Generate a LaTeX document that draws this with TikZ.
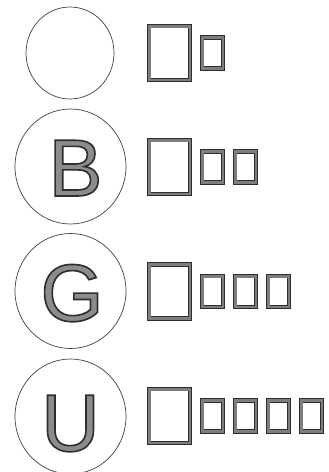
\documentclass[tikz,border=0pt]{standalone}
\usepackage{fontspec}
\setmainfont{Liberation Sans}
\newfontfamily\rimfont[FakeBold=2]{Liberation Sans}
\definecolor{inkdark}{HTML}{2E2E2E}
\definecolor{inkgray}{HTML}{7E7E7E}
% grey letter with a dark rim (grey fill, dark stroke)
\newcommand{\hollowletter}[1]{%
  \special{pdf:bcolor [0.55] [0.18]}{\rimfont #1}\special{pdf:ecolor}}
\begin{document}
\begin{tikzpicture}[x=1pt, y=-1pt,
    ring/.style={draw=black!75, line width=0.7pt},
    glyphbox/.style={draw=inkdark, line width=0.8pt, double=inkgray, double distance=2.8pt},
    letter/.style={inner sep=0pt, anchor=base, font=\fontsize{81}{81}\selectfont}]
    \useasboundingbox (0,0) rectangle (329,472);
    % Row 1
    \begin{scope}[shift={(0,53)}]
        % Ring
        \draw[ring] (70,0) ellipse [x radius=44, y radius=46];
        % Boxes
        \draw[glyphbox] (149.1,-26.9) rectangle (189.9,26.9);
        \draw[glyphbox] (202.1,-15.4) rectangle (222.9,15.4);
    \end{scope}
    % Row 2
    \begin{scope}[shift={(0,167)}]
        % Ring
        \draw[ring] (70.5,-0.5) ellipse [x radius=55.5, y radius=57.5];
        \node[letter] (letterB) at (75.5,29) {\hollowletter{B}};
        % Boxes
        \draw[glyphbox] (149.1,-26.9) rectangle (189.9,26.9);
        \draw[glyphbox] (202.1,-15.4) rectangle (222.9,15.4);
        \draw[glyphbox] (235.1,-15.4) rectangle (255.9,15.4);
    \end{scope}
    % Row 3
    \begin{scope}[shift={(0,291.5)}]
        % Ring
        \draw[ring] (70.5,-0.5) ellipse [x radius=55.5, y radius=57.5];
        \node[letter] (letterG) at (72,29.5) {\hollowletter{G}};
        % Boxes
        \draw[glyphbox] (149.1,-26.9) rectangle (189.9,26.9);
        \draw[glyphbox] (202.1,-15.4) rectangle (222.9,15.4);
        \draw[glyphbox] (235.1,-15.4) rectangle (255.9,15.4);
        \draw[glyphbox] (268.1,-15.4) rectangle (288.9,15.4);
    \end{scope}
    % Row 4
    \begin{scope}[shift={(0,416)}]
        % Ring
        \draw[ring] (70.5,0.5) ellipse [x radius=55.5, y radius=57.5];
        \node[letter] (letterU) at (70.5,35) {\hollowletter{U}};
        % Boxes
        \draw[glyphbox] (149.1,-26.9) rectangle (189.9,26.9);
        \draw[glyphbox] (202.1,-15.4) rectangle (222.9,15.4);
        \draw[glyphbox] (235.1,-15.4) rectangle (255.9,15.4);
        \draw[glyphbox] (268.1,-15.4) rectangle (288.9,15.4);
        \draw[glyphbox] (301.1,-15.4) rectangle (321.9,15.4);
    \end{scope}
\end{tikzpicture}
\end{document}
